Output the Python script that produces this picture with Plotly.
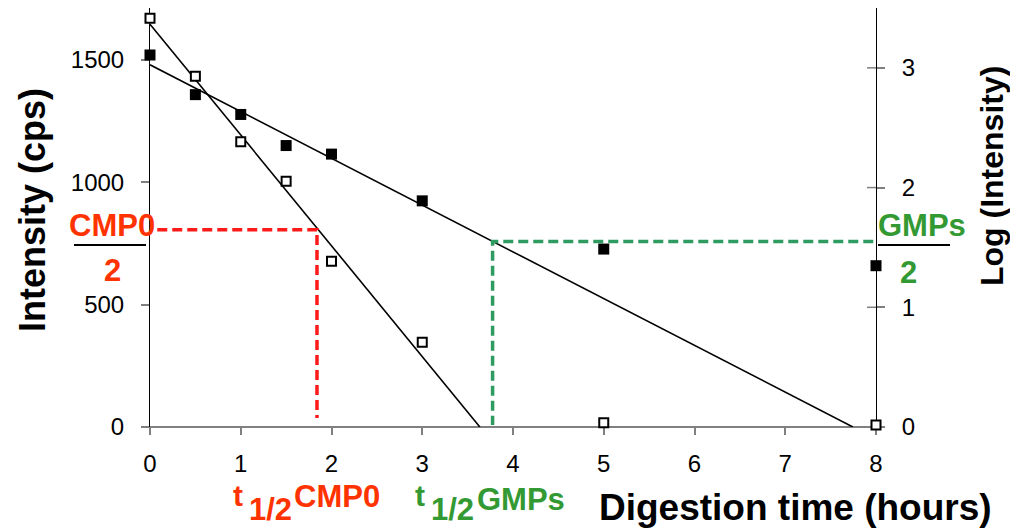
import plotly.graph_objects as go

# ---------------- data ----------------
hours = [0, 0.5, 1, 1.5, 2, 3, 5, 8]
gmps_intensity = [1520, 1358, 1277, 1150, 1115, 924, 727, 659]     # filled squares
cmp0_intensity = [1670, 1433, 1165, 1004, 677, 346, 17, 8]        # hollow squares

fit_cmp0_x = [0, 3.635]
fit_cmp0_y = [1646, 0]
fit_gmps_x = [0, 7.745]
fit_gmps_y = [1480, 0]

cmp0_half_x = [0.08, 1.84, 1.84]
cmp0_half_y = [806, 806, 37]
gmps_half_x = [7.97, 3.775, 3.775]
gmps_half_y = [758, 758, 8]

x_ticks = [0, 1, 2, 3, 4, 5, 6, 7, 8]
y_ticks = [0, 500, 1000, 1500]
y2_ticks = [0, 1, 2, 3]

# ---------------- geometry helpers ----------------
W, H = 1010, 529
L, R, T, B = 150, 876, 8, 427   # plot area in pixels
PW, PH = R - L, B - T

def px(x):
    return (x - L) / PW

def py(y):
    return (B - y) / PH

FONT = "Liberation Sans, Arial, sans-serif"
RED_T = "#FF3300"
RED_L = "#FF1A1A"
GREEN_T = "#339933"
GREEN_L = "#2E9B60"
GRAY = "#808080"

fig = go.Figure()

# trend lines
fig.add_trace(go.Scatter(x=fit_cmp0_x, y=fit_cmp0_y, mode="lines",
                         line=dict(color="black", width=1.6), showlegend=False,
                         cliponaxis=False))
fig.add_trace(go.Scatter(x=fit_gmps_x, y=fit_gmps_y, mode="lines",
                         line=dict(color="black", width=1.6), showlegend=False,
                         cliponaxis=False))

# half-life guides
fig.add_trace(go.Scatter(x=cmp0_half_x, y=cmp0_half_y, mode="lines",
                         line=dict(color=RED_L, width=3.5, dash="10px,5px"),
                         showlegend=False, cliponaxis=False))
fig.add_trace(go.Scatter(x=gmps_half_x, y=gmps_half_y, mode="lines",
                         line=dict(color=GREEN_L, width=3.5, dash="10px,5px"),
                         showlegend=False, cliponaxis=False))

# data points
fig.add_trace(go.Scatter(x=hours, y=cmp0_intensity, mode="markers",
                         marker=dict(symbol="square", size=9, color="white",
                                     line=dict(color="black", width=2)),
                         showlegend=False, cliponaxis=False))
fig.add_trace(go.Scatter(x=hours, y=gmps_intensity, mode="markers",
                         marker=dict(symbol="square", size=11, color="black",
                                     line=dict(width=0)),
                         showlegend=False, cliponaxis=False))

# invisible trace to activate right axis
fig.add_trace(go.Scatter(x=[0], y=[0], yaxis="y2", mode="markers",
                         marker=dict(opacity=0), showlegend=False,
                         hoverinfo="skip"))

shapes = []
# x-axis line (gray, extends slightly beyond axes)
shapes.append(dict(type="line", xref="paper", yref="paper",
                   x0=px(142), x1=px(884), y0=0, y1=0,
                   line=dict(color=GRAY, width=2), layer="below"))
# inner half of the crossing ticks on the right axis
for v in y2_ticks:
    shapes.append(dict(type="line", xref="paper", yref="y2",
                       x0=px(867), x1=1, y0=v, y1=v,
                       line=dict(color=GRAY, width=1.5), layer="below"))
# fraction bars
shapes.append(dict(type="line", xref="paper", yref="paper",
                   x0=px(74), x1=px(146), y0=py(245), y1=py(245),
                   line=dict(color="black", width=2)))
shapes.append(dict(type="line", xref="paper", yref="paper",
                   x0=px(878), x1=px(950), y0=py(245), y1=py(245),
                   line=dict(color="black", width=2)))

def ann(text, x, y, size, color, angle=0, bold=True):
    t = f"<b>{text}</b>" if bold else text
    return dict(text=t, x=px(x), y=py(y), xref="paper", yref="paper",
                showarrow=False, xanchor="center", yanchor="middle",
                textangle=angle, font=dict(family=FONT, size=size, color=color))

annotations = [
    ann("CMP0", 112, 226, 31, RED_T),
    ann("2", 112, 270, 31, RED_T),
    ann("GMPs", 922, 226, 31, GREEN_T),
    ann("2", 908, 272, 31, GREEN_T),
    ann("t", 238, 495, 30, RED_T),
    ann("1/2", 270, 509, 31, RED_T),
    ann("CMP0", 337, 497, 31, RED_T),
    ann("t", 420, 495, 30, GREEN_T),
    ann("1/2", 452, 509, 31, GREEN_T),
    ann("GMPs", 521, 499, 31, GREEN_T),
    ann("Intensity (cps)", 32, 210, 36, "black", angle=-90),
    ann("Log (Intensity)", 992, 176, 32, "black", angle=-90),
    ann("Digestion time (hours)", 795, 507, 37, "black"),
]

fig.update_layout(
    width=W, height=H, autosize=False,
    margin=dict(l=L, r=W - R, t=T, b=H - B, pad=0),
    paper_bgcolor="white", plot_bgcolor="white",
    font=dict(family=FONT, size=24, color="black"),
    showlegend=False,
    shapes=shapes,
    annotations=annotations,
    xaxis=dict(range=[0, 8], tickvals=x_ticks, ticktext=[str(v) for v in x_ticks],
               ticks="outside", ticklen=7, tickwidth=1.5, tickcolor=GRAY,
               showline=False, showgrid=False, zeroline=False,
               tickfont=dict(family=FONT, size=24, color="black"),
               ticklabelstandoff=8, layer="below traces"),
    yaxis=dict(range=[0, 1712], tickvals=y_ticks, ticktext=[str(v) for v in y_ticks],
               ticks="outside", ticklen=8, tickwidth=1.5, tickcolor=GRAY,
               showline=True, linecolor="black", linewidth=1,
               showgrid=False, zeroline=False,
               tickfont=dict(family=FONT, size=24, color="black"),
               ticklabelstandoff=12, layer="below traces"),
    yaxis2=dict(range=[0, 3.5], tickvals=y2_ticks, ticktext=[str(v) for v in y2_ticks],
                overlaying="y", side="right",
                ticks="outside", ticklen=8, tickwidth=1.5, tickcolor=GRAY,
                showline=True, linecolor="black", linewidth=1,
                showgrid=False, zeroline=False,
                tickfont=dict(family=FONT, size=24, color="black"),
                ticklabelstandoff=12, layer="below traces"),
)

fig.write_html("out.html")
